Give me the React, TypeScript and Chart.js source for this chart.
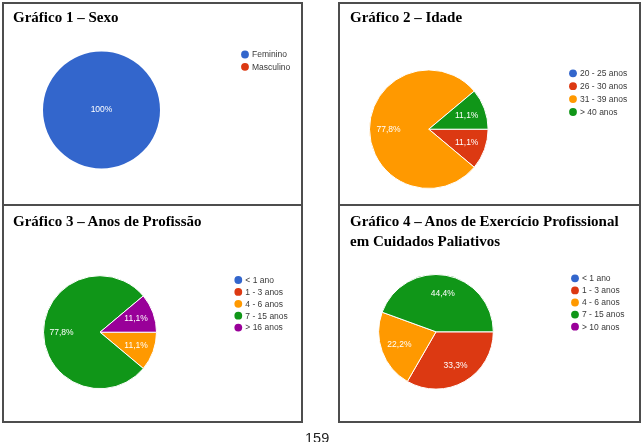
import React, { useEffect, useRef } from "react";
import { Chart, registerables } from "chart.js";

Chart.register(...registerables);

const W = 643;
const H = 442;

const palette = ["#3366cc", "#dc3912", "#ff9900", "#109618", "#990099"];

const sexoLabels = ["Feminino", "Masculino"];
const sexoValues = [100, 0];

const idadeLabels = ["20 - 25 anos", "26 - 30 anos", "31 - 39 anos", "> 40 anos"];
const idadeValues = [0, 11.1, 77.8, 11.1];

const profissaoLabels = ["< 1 ano", "1 - 3 anos", "4 - 6 anos", "7 - 15 anos", "> 16 anos"];
const profissaoValues = [0, 0, 11.1, 77.8, 11.1];

const paliativosLabels = ["< 1 ano", "1 - 3 anos", "4 - 6 anos", "7 - 15 anos", "> 10 anos"];
const paliativosValues = [0, 33.3, 22.2, 44.4, 0];

function fmtPct(v: number, total: number): string {
  const p = Math.round((v / total) * 1000) / 10;
  if (Number.isInteger(p)) return p + "%";
  return p.toFixed(1).replace(".", ",") + "%";
}

function dotLegend(x: number, y: number, pitch: number) {
  return {
    id: "dotLegend",
    afterDraw(chart: any) {
      const ctx = chart.ctx;
      const labels = chart.data.labels as string[];
      const bg = chart.data.datasets[0].backgroundColor as string[];
      ctx.save();
      ctx.font = '8.5px "Liberation Sans", Arial, sans-serif';
      ctx.textBaseline = "middle";
      ctx.textAlign = "left";
      labels.forEach((l, i) => {
        const yy = y + i * pitch;
        ctx.beginPath();
        ctx.arc(x, yy, 3.9, 0, Math.PI * 2);
        ctx.fillStyle = bg[i];
        ctx.fill();
        ctx.fillStyle = "#3a3a3a";
        ctx.fillText(l, x + 7, yy + 0.5);
      });
      ctx.restore();
    },
  };
}

function sliceLabels(frac: number) {
  return {
    id: "sliceLabels",
    afterDatasetsDraw(chart: any) {
      const ctx = chart.ctx;
      const meta = chart.getDatasetMeta(0);
      const data = chart.data.datasets[0].data as number[];
      const total = data.reduce((a, b) => a + b, 0);
      ctx.save();
      ctx.font = '8.5px "Liberation Sans", Arial, sans-serif';
      ctx.fillStyle = "#ffffff";
      ctx.textAlign = "center";
      ctx.textBaseline = "middle";
      meta.data.forEach((arc: any, i: number) => {
        const v = data[i];
        if (!v) return;
        const { x, y, startAngle, endAngle, outerRadius } = arc.getProps(
          ["x", "y", "startAngle", "endAngle", "outerRadius"],
          true
        );
        let px = x;
        let py = y;
        if (endAngle - startAngle < Math.PI * 2 - 1e-6) {
          const mid = (startAngle + endAngle) / 2;
          px = x + Math.cos(mid) * outerRadius * frac;
          py = y + Math.sin(mid) * outerRadius * frac;
        }
        ctx.fillText(fmtPct(v, total), px, py);
      });
      ctx.restore();
    },
  };
}

type PieProps = {
  labels: string[];
  values: number[];
  cx: number;
  cy: number;
  r: number;
  lx: number;
  ly: number;
  pitch: number;
  border: number;
};

function PieCanvas(props: PieProps) {
  const ref = useRef<HTMLCanvasElement | null>(null);
  useEffect(() => {
    const { labels, values, cx, cy, r, lx, ly, pitch, border } = props;
    const half = r + 4;
    const chart = new Chart(ref.current as HTMLCanvasElement, {
      type: "pie",
      data: {
        labels,
        datasets: [
          {
            data: values,
            backgroundColor: palette.slice(0, labels.length),
            borderColor: "#ffffff",
            borderWidth: border,
            hoverOffset: 0,
            radius: r,
          } as any,
        ],
      },
      options: {
        responsive: false,
        animation: false,
        devicePixelRatio: 1,
        rotation: 90,
        events: [],
        layout: {
          padding: {
            left: cx - half,
            right: W - cx - half,
            top: cy - half,
            bottom: H - cy - half,
          },
        },
        plugins: {
          legend: { display: false },
          tooltip: { enabled: false },
        },
      } as any,
      plugins: [dotLegend(lx, ly, pitch), sliceLabels(0.68)],
    });
    return () => chart.destroy();
  }, []);
  return (
    <canvas
      ref={ref}
      width={W}
      height={H}
      style={{ position: "absolute", left: 0, top: 0, width: W, height: H }}
    />
  );
}

const boxStyle = (left: number, top: number, width: number, height: number): React.CSSProperties => ({
  position: "absolute",
  left,
  top,
  width,
  height,
  boxSizing: "border-box",
  border: "2px solid #4d4d4d",
});

const titleStyle = (left: number, top: number): React.CSSProperties => ({
  position: "absolute",
  left,
  top,
  fontFamily: '"Liberation Serif", "Times New Roman", serif',
  fontWeight: "bold",
  fontSize: 15,
  lineHeight: "19.5px",
  color: "#000",
  whiteSpace: "nowrap",
});

export default function App() {
  return (
    <div
      style={{
        position: "absolute",
        left: 0,
        top: 0,
        width: W,
        height: H,
        background: "#ffffff",
        overflow: "hidden",
      }}
    >
      <div style={boxStyle(2, 2, 301, 204)} />
      <div style={boxStyle(2, 204, 301, 219)} />
      <div style={boxStyle(338, 2, 303, 204)} />
      <div style={boxStyle(338, 204, 303, 219)} />

      <PieCanvas labels={sexoLabels} values={sexoValues} cx={101.5} cy={110} r={58.5} lx={245} ly={54.5} pitch={12.3} border={0} />
      <PieCanvas labels={idadeLabels} values={idadeValues} cx={428.8} cy={129.2} r={59.3} lx={573} ly={73.3} pitch={12.9} border={1} />
      <PieCanvas labels={profissaoLabels} values={profissaoValues} cx={100} cy={332.2} r={56.5} lx={238.3} ly={280} pitch={11.9} border={1} />
      <PieCanvas labels={paliativosLabels} values={paliativosValues} cx={436} cy={331.8} r={57.3} lx={575} ly={278.3} pitch={12.1} border={1} />

      <div style={titleStyle(13, 8)}>Gráfico 1 – Sexo</div>
      <div style={titleStyle(350, 8)}>Gráfico 2 – Idade</div>
      <div style={titleStyle(13, 212)}>Gráfico 3 – Anos de Profissão</div>
      <div style={titleStyle(350, 212)}>
        Gráfico 4 – Anos de Exercício Profissional
        <br />
        em Cuidados Paliativos
      </div>

      <div
        style={{
          position: "absolute",
          left: 305,
          top: 431,
          fontFamily: '"Liberation Sans", Arial, sans-serif',
          fontSize: 14.5,
          lineHeight: "14px",
          color: "#222",
        }}
      >
        159
      </div>
    </div>
  );
}
